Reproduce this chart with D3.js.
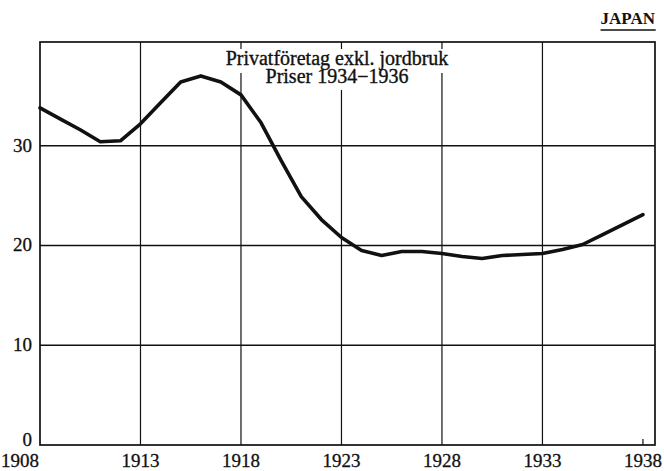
<!DOCTYPE html>
<html>
<head>
<meta charset="utf-8">
<script src="https://cdn.jsdelivr.net/npm/d3@7"></script>
<style>
  html, body { margin: 0; padding: 0; background: #fff; }
  svg { display: block; }
  text { font-family: "Liberation Serif", "Times New Roman", serif; fill: #111; }
</style>
</head>
<body>
<svg id="chart" width="664" height="471"></svg>
<script>
const years = [1908,1909,1910,1911,1912,1913,1914,1915,1916,1917,1918,1919,1920,1921,1922,1923,1924,1925,1926,1927,1928,1929,1930,1931,1932,1933,1934,1935,1936,1937,1938];
const values = [33.8,32.7,31.6,30.4,30.5,32.2,34.3,36.4,37.0,36.4,35.1,32.3,28.5,24.9,22.6,20.8,19.5,19.0,19.4,19.4,19.2,18.9,18.7,19.0,19.1,19.2,19.6,20.1,21.1,22.1,23.1];
const xTicks = [1908,1913,1918,1923,1928,1933,1938];
const yTicks = [0,10,20,30];
const titleLines = ["Privatföretag exkl. jordbruk", "Priser 1934\u22121936"];
const countryLabel = "JAPAN";

const svg = d3.select("#chart");
const x = d3.scaleLinear().domain([1908, 1938.6]).range([40, 655]);
const y = d3.scaleLinear().domain([0, 40.4]).range([445, 42]);

const ink = "#111";

// horizontal gridlines
svg.append("g").selectAll("line").data(yTicks.filter(d => d > 0)).join("line")
  .attr("x1", x.range()[0]).attr("x2", x.range()[1])
  .attr("y1", d => y(d)).attr("y2", d => y(d))
  .attr("stroke", ink).attr("stroke-width", 1.3);

// vertical gridlines
svg.append("g").selectAll("line").data(xTicks.slice(1, -1)).join("line")
  .attr("x1", d => x(d)).attr("x2", d => x(d))
  .attr("y1", y.range()[1]).attr("y2", y.range()[0])
  .attr("stroke", ink).attr("stroke-width", 1.2);

// small tick at last year
svg.append("line")
  .attr("x1", x(1938)).attr("x2", x(1938))
  .attr("y1", y(0)).attr("y2", y(0) - 6)
  .attr("stroke", ink).attr("stroke-width", 1.2);

// title (one text element, two lines) with white background
const tg = svg.append("g");
const tcx = 337;
const title = tg.append("text")
  .attr("x", tcx).attr("y", 65)
  .attr("text-anchor", "middle")
  .attr("font-size", 20)
  .attr("stroke", ink).attr("stroke-width", 0.35);
const spans = title.selectAll("tspan").data(titleLines).join("tspan")
  .attr("x", tcx)
  .attr("dy", (d, i) => i === 0 ? 0 : 18)
  .text(d => d);
spans.each(function() {
  const bb = this.getBBox();
  tg.insert("rect", "text")
    .attr("x", bb.x - 3).attr("y", bb.y + 2)
    .attr("width", bb.width + 6).attr("height", bb.height + 1)
    .attr("fill", "#fff");
});

// frame (drawn over title boxes)
svg.append("rect")
  .attr("x", x.range()[0]).attr("y", y.range()[1])
  .attr("width", x.range()[1] - x.range()[0])
  .attr("height", y.range()[0] - y.range()[1])
  .attr("fill", "none").attr("stroke", ink).attr("stroke-width", 1.7);

// data line
const line = d3.line().x((d, i) => x(years[i])).y(d => y(d)).curve(d3.curveLinear);
svg.append("path")
  .datum(values)
  .attr("d", line)
  .attr("fill", "none")
  .attr("stroke", ink)
  .attr("stroke-width", 3.6)
  .attr("stroke-linejoin", "round")
  .attr("stroke-linecap", "round");

// y labels
svg.append("g").selectAll("text").data(yTicks).join("text")
  .attr("x", 32)
  .attr("y", d => y(d) + (d === 0 ? 1 : 6))
  .attr("text-anchor", "end")
  .attr("font-size", 19)
  .attr("stroke", ink).attr("stroke-width", 0.3)
  .text(d => d);

// x labels
svg.append("g").selectAll("text").data(xTicks).join("text")
  .attr("x", (d, i) => i === 0 ? x(d) - 1 : x(d))
  .attr("y", 467)
  .attr("text-anchor", (d, i) => i === 0 ? "end" : "middle")
  .attr("font-size", 19)
  .attr("stroke", ink).attr("stroke-width", 0.3)
  .text(d => d);

// country label
const cl = svg.append("text")
  .attr("x", 655).attr("y", 24)
  .attr("text-anchor", "end")
  .attr("font-size", 17)
  .attr("font-weight", "bold")
  .text(countryLabel);
const cbb = cl.node().getBBox();
svg.append("line")
  .attr("x1", cbb.x).attr("x2", cbb.x + cbb.width)
  .attr("y1", 30).attr("y2", 30)
  .attr("stroke", ink).attr("stroke-width", 1.6);
</script>
</body>
</html>
